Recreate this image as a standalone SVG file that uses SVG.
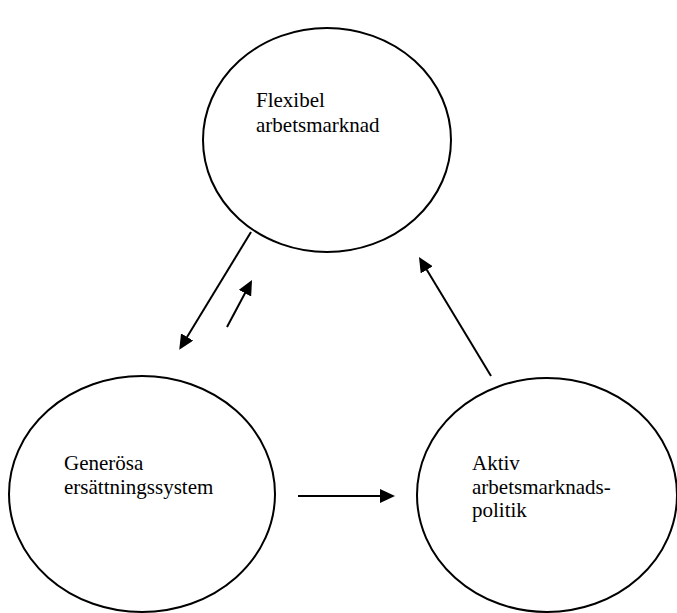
<svg xmlns="http://www.w3.org/2000/svg" width="677" height="613" viewBox="0 0 677 613">
<style>
.node ellipse{fill:#fff;stroke:#000;stroke-width:2}
.node text{font-family:'Liberation Serif','DejaVu Serif',serif;font-size:21px;fill:#000}
.conn line{stroke:#000;stroke-width:2}
</style>
<defs>
<marker id="ah" markerUnits="userSpaceOnUse" markerWidth="18" markerHeight="14" refX="2" refY="7" orient="auto">
<path d="M0,0 L15,7 L0,14 z" fill="#000"/>
</marker>
</defs>
<rect width="677" height="613" fill="#fff"/>
<g id="flex" class="node">
<ellipse cx="327" cy="140" rx="124" ry="112"/>
<text x="256" y="107">Flexibel</text>
<text x="256" y="132">arbetsmarknad</text>
</g>
<g id="gen" class="node">
<ellipse cx="142" cy="494" rx="133" ry="118"/>
<text x="64" y="470">Generösa</text>
<text x="64" y="494">ersättningssystem</text>
</g>
<g id="aktiv" class="node">
<ellipse cx="547" cy="495" rx="130" ry="117"/>
<text x="472" y="470">Aktiv</text>
<text x="472" y="493.5">arbetsmarknads-</text>
<text x="472" y="517">politik</text>
</g>
<g id="connectors" class="conn">
<line x1="251" y1="232" x2="186" y2="338.7" marker-end="url(#ah)"/>
<line x1="227" y1="327" x2="245.9" y2="291.5" marker-end="url(#ah)"/>
<line x1="298" y1="496" x2="382" y2="496" marker-end="url(#ah)"/>
<line x1="491" y1="376" x2="425.7" y2="268.1" marker-end="url(#ah)"/>
</g>
</svg>
